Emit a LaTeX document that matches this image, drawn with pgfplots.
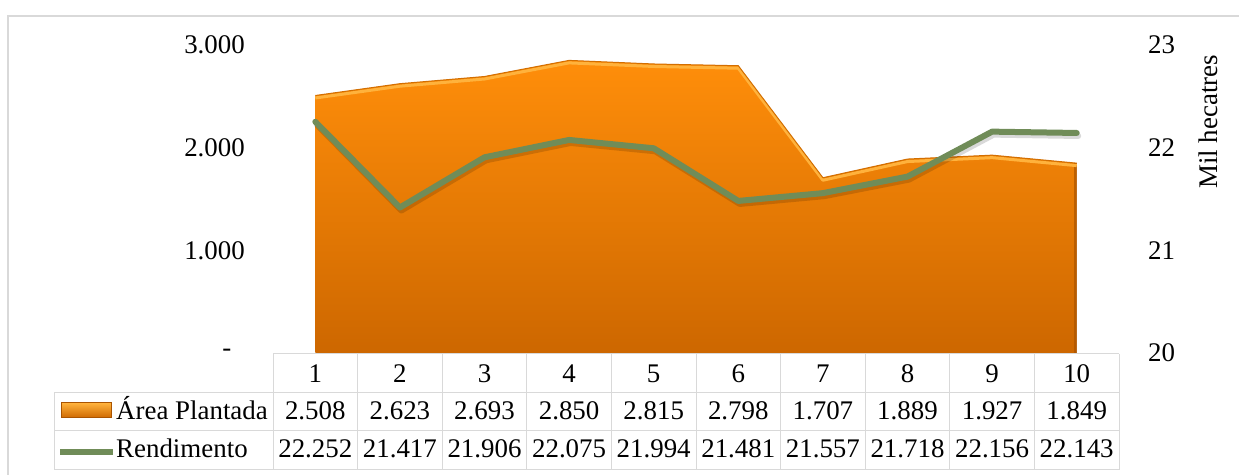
\documentclass[border=0pt]{standalone}
\usepackage{pgfplots}
\pgfplotsset{compat=1.18}
\usepackage{fontspec}
\setmainfont{Liberation Serif}
\definecolor{orTop}{RGB}{255,142,10}
\definecolor{orBot}{RGB}{205,103,0}
\definecolor{orHi}{RGB}{255,178,60}
\definecolor{orEdge}{RGB}{210,110,0}
\definecolor{orDark}{RGB}{170,84,0}
\definecolor{grn}{RGB}{112,140,88}
\definecolor{gridc}{RGB}{217,217,217}
\newcommand{\fs}{\fontsize{27}{30}\selectfont}

\pgfplotstableread{
x area
1 2508
2 2623
3 2693
4 2850
5 2815
6 2798
7 1707
8 1889
9 1927
10 1849
}\areatab

\pgfplotstableread{
x rend
1 22.252
2 21.417
3 21.906
4 22.075
5 21.994
6 21.481
7 21.557
8 21.718
9 22.156
10 22.143
}\rendtab

\begin{document}
\begin{tikzpicture}[x=1bp,y=1bp]
\useasboundingbox (0,0) rectangle (1239,475);
\fill[white] (0,0) rectangle (1239,475);
\draw[gridc, line width=1.5bp] (8,0) -- (8,459) -- (1239,459);

\begin{axis}[
  at={(273bp,122bp)}, anchor=south west, scale only axis,
  width=846bp, height=308bp,
  xmin=0.5, xmax=10.5, ymin=0, ymax=3000,
  axis line style={draw=none},
  xtick=\empty,
  ytick={0,1000,2000,3000},
  yticklabels={-\hspace*{13.5bp},1.000,2.000,3.000},
  major tick length=0pt,
  yticklabel style={font=\fs, anchor=east, inner sep=0pt, xshift=-28bp},
  clip=false,
]
\addplot[draw=none, top color=orTop, bottom color=orBot] table[x=x,y=area] {\areatab} \closedcycle;
\addplot[orDark, opacity=0.7, line width=2.5bp, xshift=-1.2bp, forget plot] coordinates {(10,1849) (10,0)};
\addplot[orHi, line width=3bp, yshift=-2.5bp, line join=round] table[x=x,y=area] {\areatab};
\addplot[orEdge, line width=1bp, line join=round] table[x=x,y=area] {\areatab};
\end{axis}

\begin{axis}[
  at={(273bp,122bp)}, anchor=south west, scale only axis,
  width=846bp, height=308bp,
  xmin=0.5, xmax=10.5, ymin=20, ymax=23,
  axis x line=none,
  axis y line*=right,
  axis line style={draw=none},
  xtick=\empty,
  ytick={20,21,22,23},
  yticklabels={20,21,22,23},
  major tick length=0pt,
  yticklabel style={font=\fs, anchor=west, inner sep=0pt, xshift=29bp},
  clip=false,
]
\addplot[black, opacity=0.15, line width=6bp, yshift=-3bp, xshift=1.5bp, line join=round, line cap=round] table[x=x,y=rend] {\rendtab};
\addplot[grn, line width=6bp, line join=round, line cap=round] table[x=x,y=rend] {\rendtab};
\end{axis}

\node[rotate=90, font=\fs, inner sep=0pt] at (1208,353) {Mil hecatres};

% data table
\begin{scope}[draw=gridc, line width=1bp]
\draw (273,121) -- (1119,121);
\draw (54,82) -- (1119,82);
\draw (54,44) -- (1119,44);
\draw (54,5) -- (1119,5);
\draw (54,82) -- (54,5);
\foreach \k in {0,...,10} \draw (273+84.6*\k,121) -- (273+84.6*\k,5);
\end{scope}

\foreach \k in {1,...,10}
  \node[font=\fs, anchor=base, inner sep=0pt] at (273+84.6*\k-42.3,92) {\k};
\foreach \v [count=\i] in {2.508,2.623,2.693,2.850,2.815,2.798,1.707,1.889,1.927,1.849}
  \node[font=\fs, anchor=base, inner sep=0pt] at (273+84.6*\i-42.3,55) {\v};
\foreach \v [count=\i] in {22.252,21.417,21.906,22.075,21.994,21.481,21.557,21.718,22.156,22.143}
  \node[font=\fs, anchor=base, inner sep=0pt] at (273+84.6*\i-42.3,17) {\v};

\draw[orDark, line width=1bp, top color=orHi, bottom color=orBot] (61,57) rectangle (111,72);
\draw[grn, line width=6bp] (60,23) -- (113,23);
\node[font=\fs, anchor=base west, inner sep=0pt] at (116,55) {Área Plantada};
\node[font=\fs, anchor=base west, inner sep=0pt] at (116,17) {Rendimento};
\end{tikzpicture}
\end{document}
